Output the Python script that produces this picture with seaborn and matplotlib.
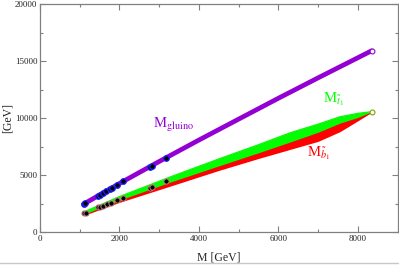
import numpy as np
import pandas as pd
import matplotlib
matplotlib.use("Agg")
import matplotlib.pyplot as plt
from matplotlib.lines import Line2D
import seaborn as sns

# values (GeV)
m_grid = [1100, 2000, 3000, 4000, 5000, 6000, 7000, 8350]
m_gluino = [2450, 4255, 6185, 8065, 9900, 11730, 13520, 15900]

m_band = [1100, 2000, 3300, 4500, 5500, 6300, 7000, 7550, 8000, 8350]
stop_hi = [1750, 3100, 4850, 6400, 7650, 8700, 9450, 10100, 10400, 10550]
stop_lo = [1550, 2800, 4400, 5800, 6950, 7900, 8750, 9550, 10050, 10550]
sbot_lo = [1450, 2600, 4050, 5400, 6450, 7250, 7950, 8800, 9750, 10500]

gl_dot_m = [1110, 1140, 1450, 1500, 1580, 1660, 1760, 1810, 1950, 2100, 2760, 2810, 3180]
gl_dot_v = [2470, 2530, 3160, 3260, 3410, 3570, 3770, 3870, 4140, 4430, 5710, 5810, 6510]
st_dot_m = [1110, 1150, 1450, 1510, 1590, 1680, 1790, 1930, 2100, 2770, 2830, 3160]
st_dot_v = [1640, 1680, 2170, 2220, 2310, 2430, 2570, 2810, 3010, 3890, 3970, 4500]

purple = "#9400d3"

sns.set_style("ticks")
plt.rcParams["font.family"] = ["Liberation Serif", "DejaVu Serif"]
plt.rcParams["mathtext.fontset"] = "stix"

fig = plt.figure(figsize=(3.99, 2.65), dpi=100)
ax = fig.add_axes([40 / 399, 33 / 265, 357.5 / 399, 228 / 265])

# sbottom (red) under stop (green)
ax.fill_between(m_band, sbot_lo, stop_hi, color="#ff0000", lw=0, zorder=2)
ax.fill_between(m_band, stop_lo, stop_hi, color="#00ff00", lw=0, zorder=3)
ax.plot(m_band, stop_hi, color="#00ff00", lw=1.0, zorder=3)

gl = pd.DataFrame({"M": m_grid, "mass": m_gluino})
sns.lineplot(data=gl, x="M", y="mass", color=purple, lw=3.4, ax=ax, zorder=4)

# end markers
ax.plot(m_grid[-1], m_gluino[-1], "o", ms=3.5, mfc="white", mec=purple, mew=0.8, zorder=6)
ax.plot(m_band[-1], stop_hi[-1], "o", ms=3.5, mfc="white", mec="#80a000", mew=0.8, zorder=6)

# special points
sns.scatterplot(x=gl_dot_m, y=gl_dot_v, color="black", edgecolor="#2020ff",
                linewidth=0.9, s=16, ax=ax, zorder=5)
sns.scatterplot(x=st_dot_m, y=st_dot_v, color="black", edgecolor="#c08080",
                linewidth=0.7, s=14, ax=ax, zorder=5)

ax.text(2850, 9100, r"M$_{\mathrm{gluino}}$", color=purple, fontsize=10.5)
ax.text(7120, 11350, r"M$_{\tilde{t}_1}$", color="#00ff00", fontsize=10.5)
ax.text(6720, 6650, r"M$_{\tilde{b}_1}$", color="#ff0000", fontsize=10.5)

ax.set_xlim(0, 9000)
ax.set_ylim(0, 20000)
ax.set_xticks([0, 2000, 4000, 6000, 8000])
ax.set_xticks(np.arange(1000, 9000, 2000), minor=True)
ax.set_yticks([0, 5000, 10000, 15000, 20000])
ax.set_yticks([2500, 7500, 12500, 17500], minor=True)
ax.tick_params(which="both", direction="in", top=True, right=True,
               color="#808080", labelsize=6.5, pad=2)
ax.tick_params(which="major", length=4, width=0.8)
ax.tick_params(which="minor", length=2.5, width=0.8)
for s in ax.spines.values():
    s.set_color("#808080")
    s.set_linewidth(0.9)

ax.set_xlabel("M [GeV]", fontsize=8.5, labelpad=6)
ax.set_ylabel("[GeV]", fontsize=8.5)
ax.yaxis.set_label_coords(-0.075, 0.5)

fig.add_artist(Line2D([0, 1], [0.006, 0.006], color="#c8c8c8", lw=1))

fig.savefig("out.png", dpi=100)
